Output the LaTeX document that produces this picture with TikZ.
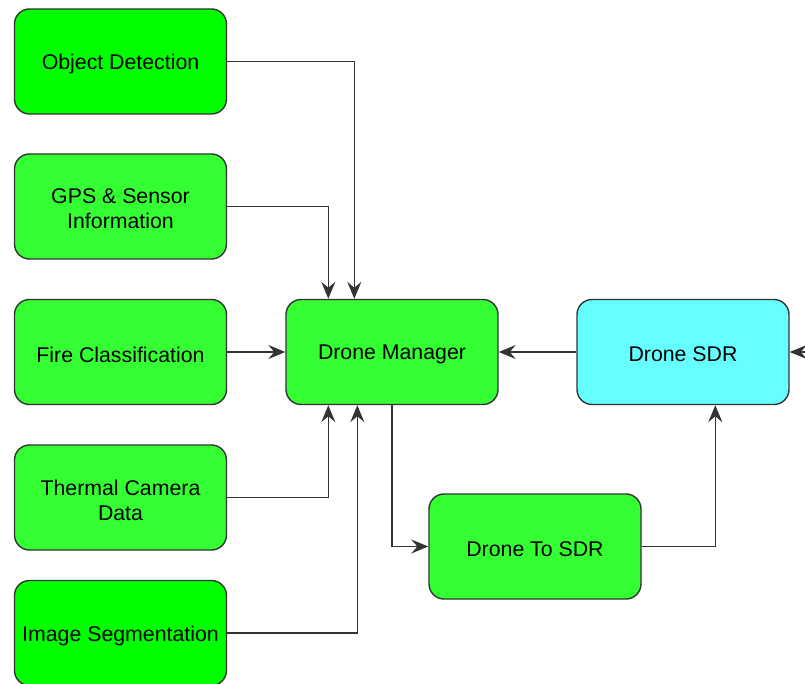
\documentclass[tikz,border=0pt]{standalone}
\usepackage{fontspec}
\setmainfont{Liberation Sans}
\usetikzlibrary{arrows.meta,calc}
\definecolor{gA}{HTML}{00FF00}
\definecolor{gB}{HTML}{33FF33}
\definecolor{cy}{HTML}{66FFFF}
\begin{document}
\begin{tikzpicture}[x=1pt,y=-1pt,
  box/.style={draw=black!80,line width=1.4pt,rounded corners=15pt,minimum width=212pt,minimum height=105pt,align=center,font=\fontsize{21.3}{25}\selectfont,inner sep=0pt},
  lbl/.style={align=center,font=\fontsize{21.3}{25}\selectfont,inner sep=0pt,yshift=-2.5pt},
  arr/.style={draw=black!80,line width=1.3pt,-{Stealth[length=17pt,width=14pt,inset=6pt]}}]
\useasboundingbox (0,0) rectangle (805,684);
\node[box,fill=gA] (od) at (120.5,61.5) {};
\node[box,fill=gB] (gps) at (120.5,206.5) {};
\node[box,fill=gB] (fire) at (120.5,352) {};
\node[box,fill=gB] (thermal) at (120.5,497.5) {};
\node[box,fill=gA] (img) at (120.5,633) {};
\node[box,fill=gB] (dm) at (392,352) {};
\node[box,fill=cy] (sdr) at (683,352) {};
\node[box,fill=gB] (d2s) at (535,546.5) {};
\node[lbl] (odt) at (od) {Object Detection};
\node[lbl] (gpst) at (gps) {GPS \& Sensor\\Information};
\node[lbl] (firet) at (fire) {Fire Classification};
\node[lbl] (thermalt) at (thermal) {Thermal Camera\\Data};
\node[lbl] (imgt) at (img) {Image Segmentation};
\node[lbl] (dmt) at (dm) {Drone Manager};
\node[lbl] (sdrt) at (sdr) {Drone SDR};
\node[lbl] (d2st) at (d2s) {Drone To SDR};
\coordinate (ext) at (810,352);
\draw[arr] (od.east) -| ($(dm.north west)+(69,0)$);
\draw[arr] (gps.east) -| ($(dm.north west)+(43,0)$);
\draw[arr] (fire.east) -- (dm.west);
\draw[arr] (thermal.east) -| ($(dm.south west)+(43,0)$);
\draw[arr] (img.east) -| ($(dm.south west)+(72,0)$);
\draw[arr] (dm.south) |- (d2s.west);
\draw[arr] (d2s.east) -| ($(sdr.south west)+(139,0)$);
\draw[arr] (sdr.west) -- (dm.east);
\draw[arr] (ext) -- (sdr.east);
\end{tikzpicture}
\end{document}
